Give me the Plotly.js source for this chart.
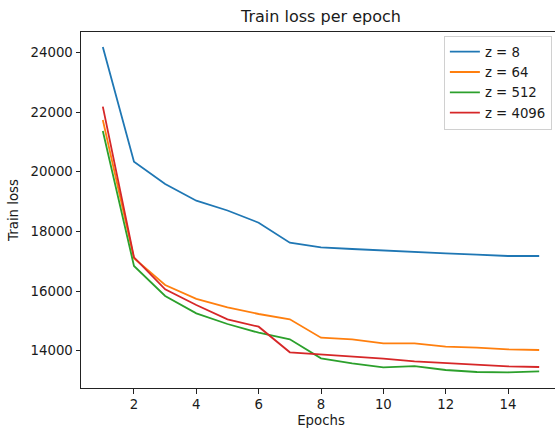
<!DOCTYPE html>
<html>
<head>
<meta charset="utf-8">
<script src="https://cdn.plot.ly/plotly-3.0.1.min.js"></script>
<style>
html, body { margin: 0; padding: 0; overflow: hidden; background: #fff; }
#chart { width: 570px; height: 428px; }
</style>
</head>
<body>
<div id="chart"></div>
<script>
const epochs = [1, 2, 3, 4, 5, 6, 7, 8, 9, 10, 11, 12, 13, 14, 15];
const seriesNames = ["z = 8", "z = 64", "z = 512", "z = 4096"];
const loss_z8 = [24180, 20335, 19588, 19029, 18700, 18292, 17622, 17467, 17410, 17354, 17310, 17266, 17220, 17176, 17176];
const loss_z64 = [21732, 17099, 16205, 15740, 15457, 15233, 15055, 14439, 14384, 14250, 14250, 14138, 14105, 14050, 14027];
const loss_z512 = [21364, 16841, 15836, 15256, 14898, 14607, 14385, 13749, 13581, 13447, 13490, 13357, 13290, 13280, 13313];
const loss_z4096 = [22178, 17130, 16060, 15534, 15055, 14808, 13950, 13883, 13826, 13736, 13648, 13592, 13524, 13481, 13458];
const colors = ["#1f77b4", "#ff7f0e", "#2ca02c", "#d62728"];

const allSeries = [loss_z8, loss_z64, loss_z512, loss_z4096];
const traces = allSeries.map((ys, i) => ({
  x: epochs,
  y: ys,
  type: "scatter",
  mode: "lines",
  name: seriesNames[i],
  line: { color: colors[i], width: 1.8 }
}));

const font = { family: "DejaVu Sans, sans-serif", size: 13.3, color: "#1a1a1a" };

const layout = {
  width: 570,
  height: 428,
  margin: { l: 81, r: 9, t: 32, b: 40 },
  paper_bgcolor: "#fff",
  plot_bgcolor: "#fff",
  font: font,
  showlegend: true,
  title: {
    text: "Train loss per epoch",
    font: { family: "DejaVu Sans, sans-serif", size: 16, color: "#1a1a1a" },
    x: 0.5, xref: "paper", xanchor: "center",
    y: 0.962, yref: "container", yanchor: "middle"
  },
  xaxis: {
    range: [0.3, 15.7],
    tick0: 0, dtick: 2,
    ticks: "outside", ticklen: 4.5, tickwidth: 1, tickcolor: "#222",
    showgrid: false, zeroline: false,
    showline: true, linecolor: "#222", linewidth: 1, mirror: true,
    tickfont: font,
    title: { text: "Epochs", font: font, standoff: 5 }
  },
  yaxis: {
    range: [12754, 24680],
    tick0: 0, dtick: 2000, tickformat: "d",
    ticks: "outside", ticklen: 4.5, tickwidth: 1, tickcolor: "#222",
    showgrid: false, zeroline: false,
    showline: true, linecolor: "#222", linewidth: 1, mirror: true,
    tickfont: font,
    title: { text: "Train loss", font: font, standoff: 8 }
  },
  legend: {
    x: 0.756, xanchor: "left", xref: "paper",
    y: 0.99, yanchor: "top", yref: "paper",
    bgcolor: "rgba(255,255,255,0.8)",
    bordercolor: "#d0d0d0", borderwidth: 1,
    font: font
  }
};

Plotly.newPlot("chart", traces, layout, { displayModeBar: false, staticPlot: true });
</script>
</body>
</html>
